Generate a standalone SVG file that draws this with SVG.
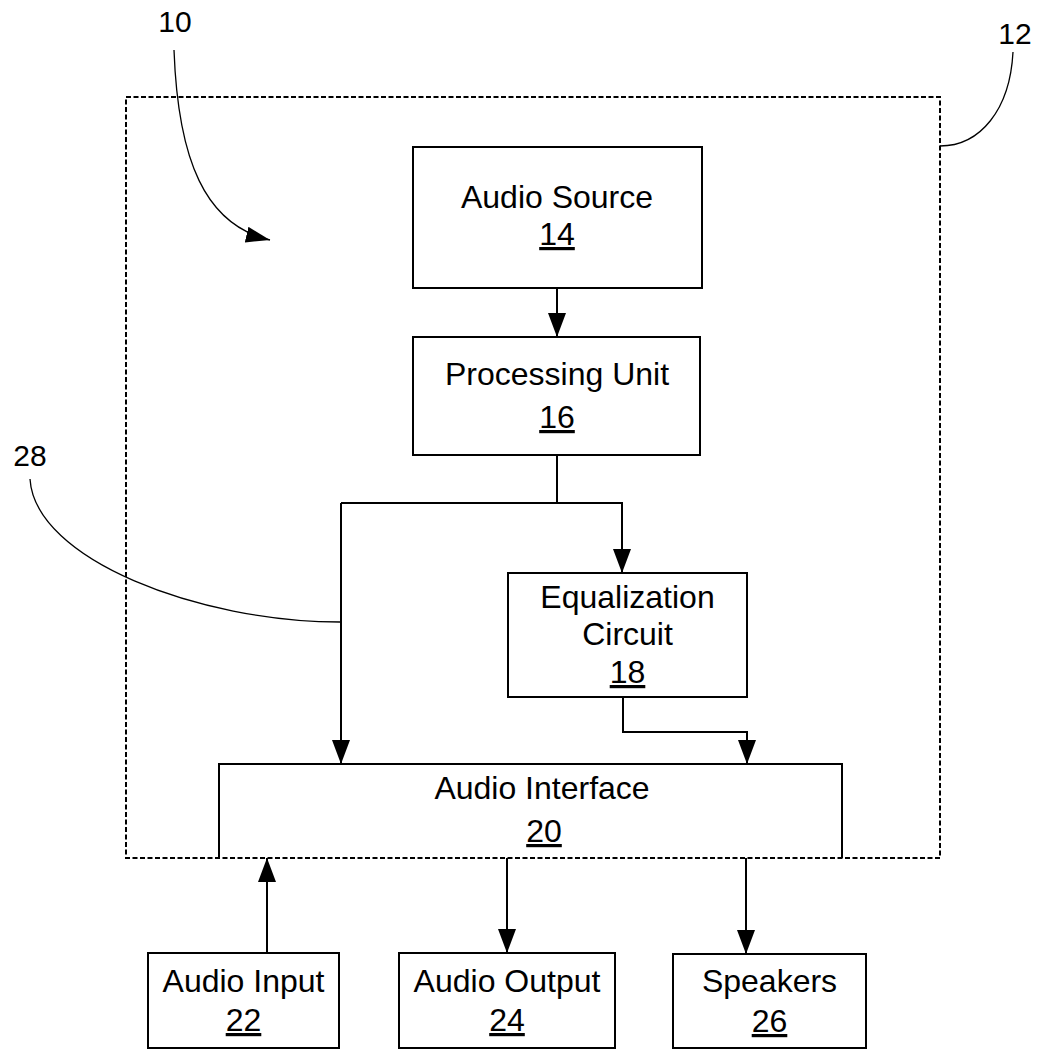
<svg xmlns="http://www.w3.org/2000/svg" width="1037" height="1050" viewBox="0 0 1037 1050">
<style>
.box{fill:none;stroke:#000;stroke-width:2}
.bound{fill:none;stroke:#000;stroke-width:2;stroke-dasharray:5 2.5}
.wire{fill:none;stroke:#000;stroke-width:2}
.lead{fill:none;stroke:#000;stroke-width:1.3}
text{font-family:"Liberation Sans",Arial,sans-serif;font-size:32px;fill:#000;text-anchor:middle}
.ref{font-size:30px}
.u{text-decoration:underline}
</style>
<defs>
<marker id="ah" markerUnits="userSpaceOnUse" markerWidth="25" markerHeight="18" refX="24" refY="9" orient="auto" viewBox="0 0 25 18">
<path d="M0,0 L24,9 L0,18 z" fill="#000"/>
</marker>
<marker id="ahs" markerUnits="userSpaceOnUse" markerWidth="25" markerHeight="16" refX="24" refY="8" orient="auto" viewBox="0 0 25 16">
<path d="M0,0 L24,8 L0,16 z" fill="#000"/>
</marker>
</defs>
<rect id="wht" x="0" y="0" width="1037" height="1050" fill="#fff"/>
<g id="n12">
<rect class="bound" x="126" y="97" width="814" height="761"/>
<path class="lead" d="M1013,52 C1010,110 980,146 940,146"/>
<text class="ref" x="1015" y="44">12</text>
</g>
<g id="n10">
<path class="lead" d="M174,50 C178,160 205,225 270,240" marker-end="url(#ahs)"/>
<text class="ref" x="175" y="32">10</text>
</g>
<g id="n28">
<path class="lead" d="M30,479 C35,560 200,622 340,622"/>
<text class="ref" x="30" y="466">28</text>
</g>
<g id="n14">
<rect class="box" x="413" y="147" width="289" height="141"/>
<text x="557" y="208">Audio Source</text>
<text x="557" y="245" class="u">14</text>
</g>
<g id="n16">
<rect class="box" x="413" y="337" width="287" height="118"/>
<text x="557" y="385">Processing Unit</text>
<text x="557" y="428" class="u">16</text>
</g>
<g id="n18">
<rect class="box" x="508" y="573" width="239" height="124"/>
<text x="627.5" y="608">Equalization</text>
<text x="627.5" y="645">Circuit</text>
<text x="627.5" y="683" class="u">18</text>
</g>
<g id="n20">
<path class="box" d="M219,858 V764 H842 V858"/>
<text x="542" y="799">Audio Interface</text>
<text x="544" y="842" class="u">20</text>
</g>
<g id="n22">
<rect class="box" x="148" y="953" width="191" height="95"/>
<text x="243.5" y="992">Audio Input</text>
<text x="243.5" y="1031" class="u">22</text>
</g>
<g id="n24">
<rect class="box" x="399" y="953" width="216" height="95"/>
<text x="507" y="992">Audio Output</text>
<text x="507" y="1031" class="u">24</text>
</g>
<g id="n26">
<rect class="box" x="673" y="954" width="193" height="94"/>
<text x="769.5" y="992">Speakers</text>
<text x="769.5" y="1032" class="u">26</text>
</g>
<g id="connectors">
<path class="wire" d="M557,288 V337" marker-end="url(#ah)"/>
<path class="wire" d="M557,455 V503 M341,503 H623"/>
<path class="wire" d="M341,503 V764" marker-end="url(#ah)"/>
<path class="wire" d="M622,503 V573" marker-end="url(#ah)"/>
<path class="wire" d="M623,697 V732 H747 V764" marker-end="url(#ah)"/>
<path class="wire" d="M267,953 V858" marker-end="url(#ah)"/>
<path class="wire" d="M507,858 V953" marker-end="url(#ah)"/>
<path class="wire" d="M746,858 V954" marker-end="url(#ah)"/>
</g>
</svg>
